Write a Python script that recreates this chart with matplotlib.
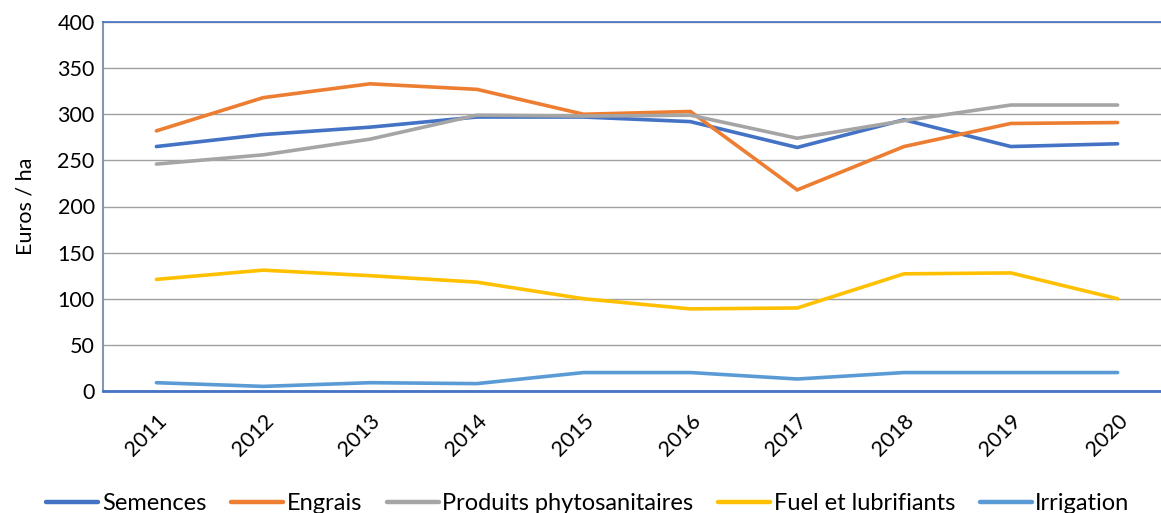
import matplotlib
matplotlib.use("Agg")
import matplotlib.pyplot as plt

years = ["2011", "2012", "2013", "2014", "2015", "2016", "2017", "2018", "2019", "2020"]
semences = [265, 278, 286, 297, 297, 292, 264, 294, 265, 268]
engrais = [282, 318, 333, 327, 300, 303, 218, 265, 290, 291]
phyto = [246, 256, 273, 299, 298, 299, 274, 293, 310, 310]
fuel = [121, 131, 125, 118, 100, 89, 90, 127, 128, 100]
irrigation = [9, 5, 9, 8, 20, 20, 13, 20, 20, 20]

series = [
    ("Semences", semences, "#4472C4"),
    ("Engrais", engrais, "#ED7D31"),
    ("Produits phytosanitaires", phyto, "#A5A5A5"),
    ("Fuel et lubrifiants", fuel, "#FFC000"),
    ("Irrigation", irrigation, "#5B9BD5"),
]

plt.rcParams['font.family'] = ['Lato', 'DejaVu Sans']

W, H = 1161, 513
fig = plt.figure(figsize=(W / 100, H / 100), dpi=100)
ax = fig.add_axes([103 / W, (H - 391) / H, 1068 / W, 369 / H])

x = list(range(len(years)))
for name, vals, col in series:
    ax.plot(x, vals, color=col, lw=2.6, label=name, solid_capstyle='round', solid_joinstyle='miter')

ax.set_xlim(-0.5, 9.5)
ax.set_ylim(0, 400)
ax.set_yticks(range(0, 401, 50))
ax.set_xticks(x)
ax.set_xticklabels(years, rotation=45, ha='right', rotation_mode='anchor')
ax.tick_params(axis='both', length=0, labelsize=15.5, colors='#000000')
ax.tick_params(axis='x', pad=14)
ax.tick_params(axis='y', pad=6)
ax.yaxis.grid(True, color='#A0A0A0', lw=1.0)
ax.set_axisbelow(True)
ax.spines['right'].set_visible(False)
ax.spines['top'].set_color('#4472C4')
ax.spines['top'].set_linewidth(1.2)
ax.spines['left'].set_color('#8497B0')
ax.spines['left'].set_linewidth(1.5)
ax.spines['bottom'].set_color('#4472C4')
ax.spines['bottom'].set_linewidth(2.0)
ax.set_ylabel("Euros / ha", fontsize=15.5, labelpad=16)

leg = fig.legend(loc='center', bbox_to_anchor=(588 / W, 9 / H), ncol=5, frameon=False,
                 fontsize=17, handlelength=2.2, columnspacing=1.05, handletextpad=0.15)
for line in leg.get_lines():
    line.set_linewidth(3.2)

fig.savefig("out.png", dpi=100)
